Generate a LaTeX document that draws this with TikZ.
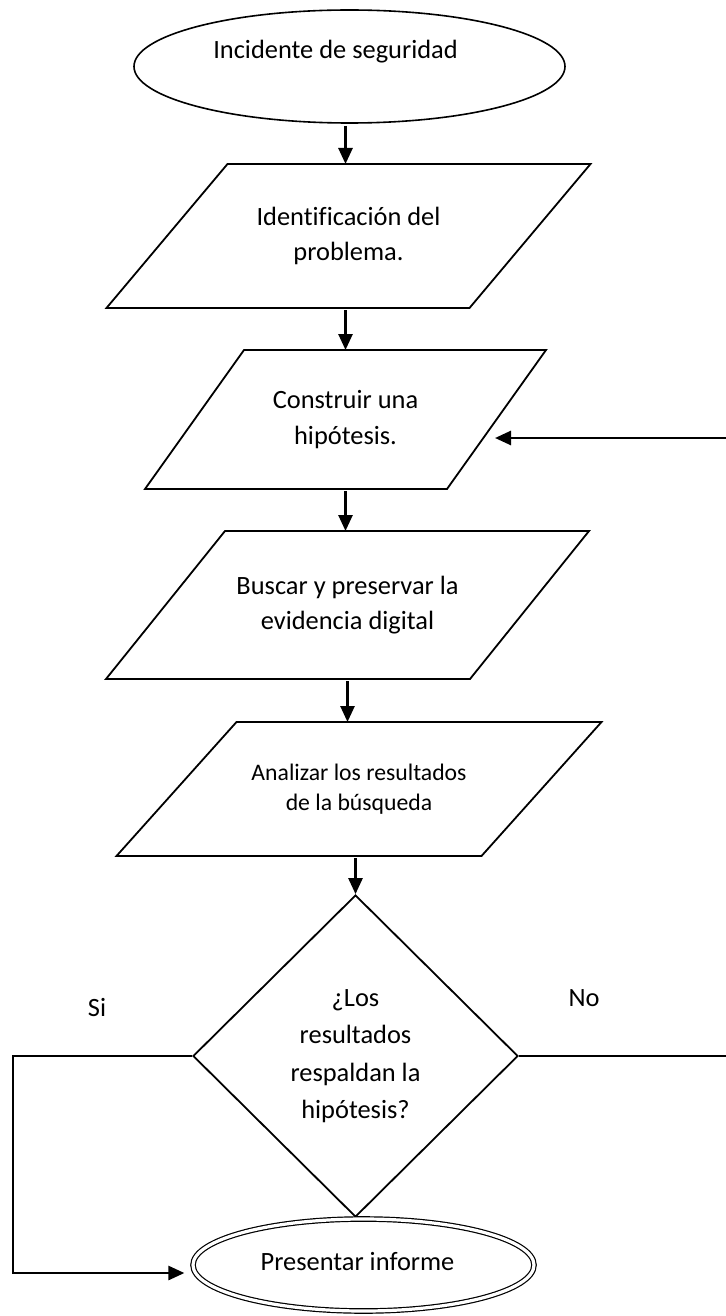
\documentclass[tikz,border=0pt]{standalone}
\usepackage{fontspec}
\setmainfont{Carlito}[Ligatures=CommonOff]
\usetikzlibrary{shapes.geometric, arrows.meta}
\newcommand\flowfont{\fontsize{13.2}{17.75}\selectfont}
\newcommand\askfont{\fontsize{13.2}{18.75}\selectfont}
\newcommand\smallflowfont{\fontsize{11.85}{15}\selectfont}
% parallelogram round a text node: #1 node, #2 half of the slant
\newcommand\drawio[2]{\draw[line width=0.9pt] ([xshift=#2]#1.north west) -- ([xshift=#2]#1.north east)
  -- ([xshift=-#2]#1.south east) -- ([xshift=-#2]#1.south west) -- cycle;}

\begin{document}
\begin{tikzpicture}[x=0.5pt,y=-0.5pt,
  io/.style={rectangle, inner sep=0pt, outer sep=0pt, align=center, font=\flowfont},
  term/.style={draw, line width=0.8pt, ellipse, inner sep=0pt, font=\flowfont},
  arr/.style={line width=1.3pt, -{Triangle[length=8pt,width=7pt]}, shorten <=1pt},
  loopline/.style={line width=1.3pt, -{Triangle[length=8pt,width=7pt]}}]
\useasboundingbox (0,0) rectangle (726,1316);

\node[term, minimum width=215.5pt, minimum height=56.5pt,
  label={[font=\flowfont, xshift=-7pt, yshift=7.25pt]center:Incidente de seguridad}] (start) at (349.5,66.5) {};

\node[io, minimum width=181.5pt, minimum height=72pt] (p1) at (348.5,236) {Identificación del\\problema.};
\node[io, minimum width=151pt, minimum height=69.5pt] (p2) at (345.5,419.5) {Construir una\\hipótesis.};
\node[io, minimum width=182pt, minimum height=74pt] (p3) at (347.5,605) {Buscar y preservar la\\evidencia digital};
\node[io, minimum width=182.5pt, minimum height=67pt, font=\smallflowfont] (p4) at (359,789) {Analizar los resultados\\de la búsqueda};
\drawio{p1}{30.25pt}
\drawio{p2}{24.75pt}
\drawio{p3}{29.75pt}
\drawio{p4}{30pt}

\node[draw, line width=0.9pt, diamond, inner sep=0pt, minimum width=162.5pt, minimum height=161pt, align=center, font=\askfont] (dec) at (355.5,1056) {¿Los\\resultados\\respaldan la\\hipótesis?};

\node[term, double, double distance=1.6pt, line width=0.6pt, minimum width=170.5pt, minimum height=46pt,
  label={[font=\flowfont, xshift=-3pt, yshift=1.5pt]center:Presentar informe}] (fin) at (363.5,1265) {};

\node[font=\flowfont] (si) at (97,1007) {Si};
\node[font=\flowfont] (no) at (584,998) {No};

% main flow
\draw[arr] (start.south -| p2.center) -- (p1.north -| p2.center);
\draw[arr] (p1.south -| p2.center) -- (p2.north -| p2.center);
\draw[arr] (p2.south -| p2.center) -- (p3.north -| p2.center);
\draw[arr] (p3.south -| p3.center) -- (p4.north -| p3.center);
\draw[arr] (p4.south -| dec.north) -- (dec.north);

% back to the hypothesis
\coordinate (loop) at (729,438);
\coordinate (hyp) at (495,438);
\draw[loopline] (dec.east) -| (loop) -- (hyp);

% report
\coordinate (yes) at (13,1273);
\coordinate (finin) at ([xshift=-4pt]fin.west);
\draw[loopline] (dec.west) -| (yes) -- (finin |- yes);
\end{tikzpicture}
\end{document}
